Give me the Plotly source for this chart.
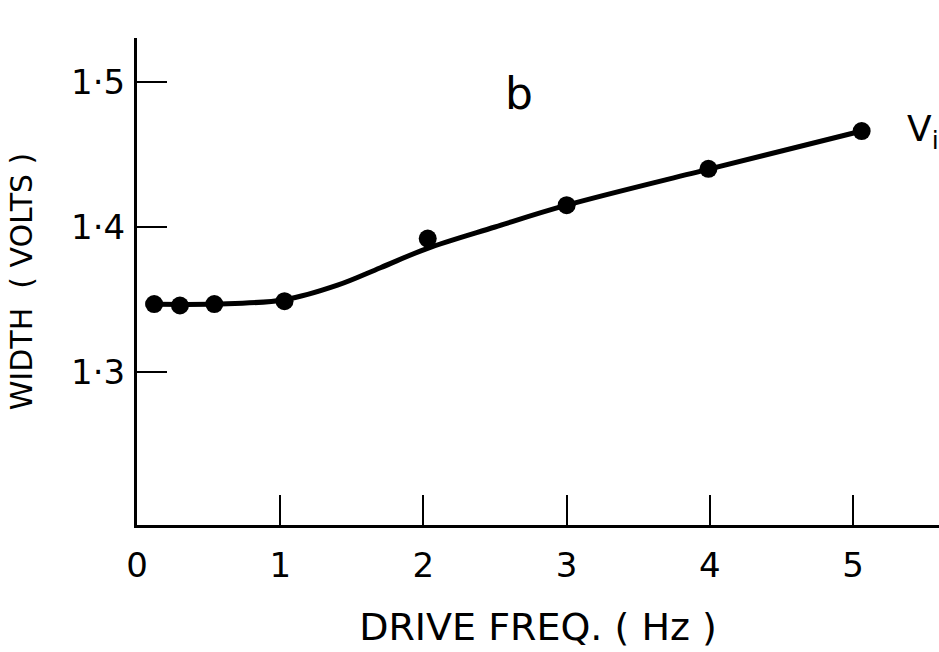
import plotly.graph_objects as go

# Measured points
freq = [0.12, 0.30, 0.54, 1.03, 2.03, 3.00, 3.99, 5.06]
width = [1.347, 1.346, 1.347, 1.349, 1.392, 1.415, 1.440, 1.466]

# Hand-drawn smooth curve through the points
curve_x = [0.06, 0.55, 1.03, 1.40, 1.70, 2.02, 2.50, 3.00, 4.00, 5.06]
curve_y = [1.347, 1.347, 1.350, 1.360, 1.372, 1.385, 1.400, 1.415, 1.440, 1.466]

x_ticks = [0, 1, 2, 3, 4, 5]
x_ticktext = ["0", "1", "2", "3", "4", "5"]
y_ticks = [1.3, 1.4, 1.5]
y_ticktext = ["1·3", "1·4", "1·5"]

FONT = "DejaVu Sans, sans-serif"

fig = go.Figure()
fig.add_trace(go.Scatter(x=curve_x, y=curve_y, mode="lines",
                         line=dict(color="black", width=5, shape="spline", smoothing=1.0),
                         hoverinfo="skip", showlegend=False))
fig.add_trace(go.Scatter(x=freq, y=width, mode="markers",
                         marker=dict(color="black", size=18),
                         showlegend=False))

fig.add_annotation(x=2.67, y=1.492, text="b", showarrow=False,
                   font=dict(family=FONT, size=44, color="black"))
fig.add_annotation(x=5.36, y=1.466, xanchor="left", text="V<sub>i</sub>", showarrow=False,
                   font=dict(family=FONT, size=36, color="black"))

fig.update_layout(
    width=939, height=652,
    margin=dict(l=137, r=0, t=38, b=127),
    paper_bgcolor="white", plot_bgcolor="white",
    font=dict(family=FONT, color="black"),
    xaxis=dict(range=[0, 5.6], tickvals=x_ticks, ticktext=x_ticktext,
               ticks="inside", ticklen=30, tickwidth=2, tickcolor="black",
               showline=True, linewidth=3, linecolor="black",
               showgrid=False, zeroline=False,
               tickfont=dict(size=34), ticklabelstandoff=8,
               title=dict(text="DRIVE FREQ. ( Hz )", font=dict(size=38), standoff=30)),
    yaxis=dict(range=[1.195, 1.530], tickvals=y_ticks, ticktext=y_ticktext,
               ticks="inside", ticklen=30, tickwidth=2, tickcolor="black",
               showline=True, linewidth=3, linecolor="black",
               showgrid=False, zeroline=False,
               tickfont=dict(size=34), ticklabelstandoff=2,
               title=dict(text="WIDTH  ( VOLTS )", font=dict(size=30), standoff=30)),
)

fig.write_html("out.html")
